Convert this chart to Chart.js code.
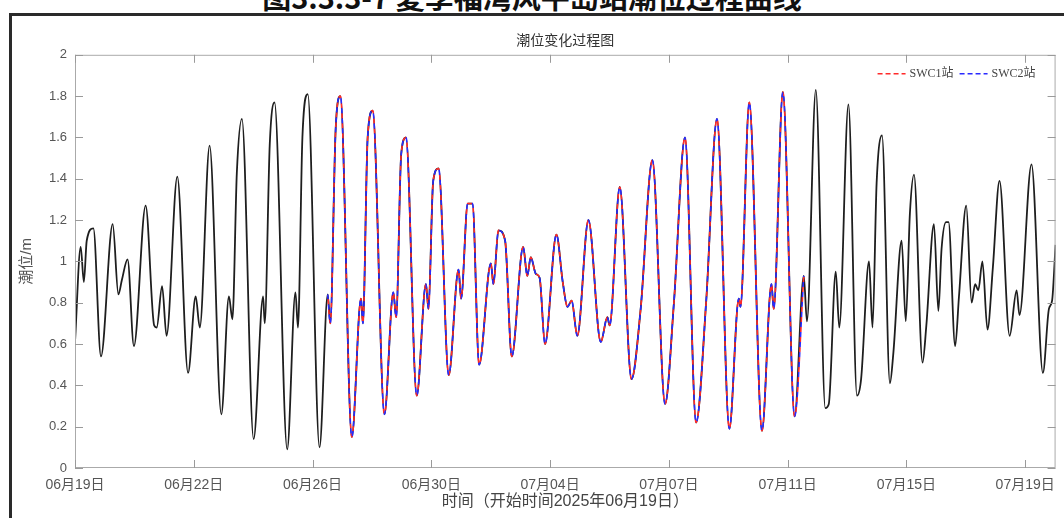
<!DOCTYPE html>
<html>
<head>
<meta charset="utf-8">
<script src="https://cdn.jsdelivr.net/npm/chart.js@4/dist/chart.umd.min.js"></script>
<style>
    html, body { margin: 0; padding: 0; background: #fff; overflow: hidden; }
    #page { position: relative; width: 1064px; height: 518px; }
    #docTitle {
        position: absolute; left: 0; top: -25px; width: 1064px; text-align: center;
        font: bold 29px "Noto Sans CJK SC", sans-serif; color: #111; white-space: nowrap;
    }
    #frameTop { position: absolute; left: 9px; top: 13px; width: 1055px; height: 3px; background: #2a2a2a; }
    #frameLeft { position: absolute; left: 9px; top: 13px; width: 3px; height: 505px; background: #2a2a2a; }
    #tideChart { position: absolute; left: 0; top: 0; }
</style>
</head>
<body>
<div id="page">
    <div id="docTitle">图3.3.3-7 夏季福湾风平岛站潮位过程曲线</div>
    <div id="frameTop"></div>
    <div id="frameLeft"></div>
    <canvas id="tideChart" width="1064" height="518"></canvas>
</div>
<script>
// x ticks (days after 06-19 00:00)
const tickDays = [0, 3.75, 7.5, 11.25, 15, 18.75, 22.5, 26.25, 30];
const tickLabels = ['06月19日', '06月22日', '06月26日', '06月30日', '07月04日', '07月07日', '07月11日', '07月15日', '07月19日'];

// tide level: time (days) and level (m)
const tideDays = [
    0.00, 0.18, 0.28, 0.37, 0.58, 0.82, 1.19, 1.37, 1.48, 1.66,
    1.86, 2.23, 2.50, 2.58, 2.75, 2.89, 3.23, 3.57, 3.81, 3.94,
    4.25, 4.62, 4.86, 4.97, 5.11, 5.27, 5.64, 5.94, 5.99, 6.15,
    6.30, 6.70, 6.96, 7.04, 7.18, 7.35, 7.72, 7.98, 8.06, 8.23,
    8.38, 8.74, 9.03, 9.09, 9.24, 9.40, 9.77, 10.05, 10.14, 10.30,
    10.45, 10.79, 11.08, 11.16, 11.31, 11.48, 11.80, 12.11, 12.19, 12.40,
    12.55, 12.76, 13.13, 13.21, 13.37, 13.58, 13.79, 14.15, 14.28, 14.39,
    14.55, 14.67, 14.84, 15.20, 15.40, 15.55, 15.68, 15.86, 16.21, 16.60,
    16.81, 16.88, 17.20, 17.57, 17.86, 18.23, 18.63, 18.91, 19.26, 19.61,
    19.93, 20.27, 20.66, 20.96, 21.01, 21.29, 21.69, 21.99, 22.06, 22.35,
    22.72, 23.01, 23.11, 23.39, 23.69, 23.80, 24.02, 24.13, 24.42, 24.69,
    24.82, 25.07, 25.18, 25.31, 25.48, 25.73, 25.84, 26.10, 26.23, 26.36,
    26.49, 26.76, 26.88, 27.12, 27.26, 27.36, 27.50, 27.58, 27.79, 27.91,
    28.14, 28.31, 28.42, 28.52, 28.65, 28.81, 28.98, 29.19, 29.51, 29.73,
    29.82, 30.20, 30.56, 30.75, 30.85, 30.96
];
const tideLevel = [
    0.61, 1.07, 0.90, 1.10, 1.16, 0.54, 1.18, 0.84, 0.91, 1.01,
    0.59, 1.27, 0.69, 0.68, 0.88, 0.64, 1.41, 0.46, 0.83, 0.68,
    1.56, 0.26, 0.83, 0.72, 1.43, 1.69, 0.14, 0.83, 0.70, 1.57,
    1.77, 0.09, 0.85, 0.68, 1.60, 1.81, 0.10, 0.84, 0.70, 1.64,
    1.80, 0.15, 0.82, 0.70, 1.60, 1.73, 0.26, 0.85, 0.73, 1.52,
    1.60, 0.35, 0.89, 0.77, 1.39, 1.45, 0.45, 0.96, 0.82, 1.28,
    1.28, 0.50, 0.99, 0.89, 1.15, 1.10, 0.54, 1.07, 0.93, 1.02,
    0.94, 0.92, 0.60, 1.13, 0.90, 0.78, 0.81, 0.64, 1.20, 0.61,
    0.73, 0.69, 1.36, 0.43, 0.77, 1.49, 0.31, 0.80, 1.60, 0.22,
    0.81, 1.69, 0.19, 0.82, 0.78, 1.77, 0.18, 0.89, 0.77, 1.82,
    0.25, 0.93, 0.71, 1.83, 0.29, 0.31, 0.95, 0.68, 1.76, 0.35,
    0.43, 1.00, 0.68, 1.38, 1.61, 0.41, 0.56, 1.10, 0.71, 1.23,
    1.42, 0.51, 0.69, 1.18, 0.76, 1.06, 1.19, 1.19, 0.59, 0.83,
    1.27, 0.80, 0.89, 0.86, 1.00, 0.67, 0.97, 1.39, 0.64, 0.86,
    0.74, 1.47, 0.46, 0.77, 0.81, 1.08
];

// stations SWC1 / SWC2 cover this window and sit on the same curve
const swcFrom = 7.98;
const swcTo = 23.01;

const tidePoints = tideDays.map((d, i) => ({ x: d, y: tideLevel[i] }));
const swcPoints = tidePoints.filter(p => p.x >= swcFrom && p.x <= swcTo);

// box, inward tick marks and the legend in the top right corner
const boxPlugin = {
    id: 'boxPlugin',
    afterDraw(chart) {
        const ctx = chart.ctx;
        const a = chart.chartArea;
        const xs = chart.scales.x;
        const ys = chart.scales.y;
        ctx.save();
        ctx.strokeStyle = '#aaaaaa';
        ctx.lineWidth = 1;
        ctx.strokeRect(a.left + 0.5, a.top + 0.5, a.right - a.left - 1, a.bottom - a.top - 1);

        ctx.strokeStyle = '#9a9a9a';
        ctx.beginPath();
        xs.ticks.forEach(t => {
            const px = Math.round(xs.getPixelForValue(t.value)) + 0.5;
            ctx.moveTo(px, a.bottom); ctx.lineTo(px, a.bottom - 8);
            ctx.moveTo(px, a.top); ctx.lineTo(px, a.top + 8);
        });
        ys.ticks.forEach(t => {
            const py = Math.round(ys.getPixelForValue(t.value)) + 0.5;
            ctx.moveTo(a.left, py); ctx.lineTo(a.left + 8, py);
            ctx.moveTo(a.right, py); ctx.lineTo(a.right - 8, py);
        });
        ctx.stroke();

        // legend
        const items = chart.data.datasets.filter(ds => ds.label);
        ctx.font = '12px "Liberation Serif", "Noto Sans CJK SC", serif';
        ctx.textBaseline = 'middle';
        const sample = 28;
        let total = 0;
        items.forEach(ds => { total += sample + 4 + ctx.measureText(ds.label).width + 6; });
        let x = a.right - 14 - total;
        const y = a.top + 19;
        items.forEach(ds => {
            ctx.strokeStyle = ds.borderColor;
            ctx.lineWidth = 1.5;
            ctx.setLineDash([5, 3]);
            ctx.beginPath();
            ctx.moveTo(x, y); ctx.lineTo(x + sample, y);
            ctx.stroke();
            ctx.setLineDash([]);
            x += sample + 4;
            ctx.fillStyle = '#444';
            ctx.fillText(ds.label, x, y);
            x += ctx.measureText(ds.label).width + 6;
        });
        ctx.restore();
    }
};

Chart.defaults.font.family = "'Liberation Sans', 'Noto Sans CJK SC', sans-serif";
Chart.defaults.color = '#555';

const ctx = document.getElementById('tideChart').getContext('2d');
new Chart(ctx, {
    type: 'line',
    data: {
        datasets: [
            {
                label: '',
                data: tidePoints,
                borderColor: '#1e1e1e',
                borderWidth: 1.8,
                order: 3
            },
            {
                label: 'SWC1站',
                data: swcPoints,
                borderColor: '#ff2a2a',
                borderWidth: 1.6,
                borderDash: [5, 5],
                borderDashOffset: 5,
                order: 2
            },
            {
                label: 'SWC2站',
                data: swcPoints,
                borderColor: '#2a2aff',
                borderWidth: 1.6,
                borderDash: [5, 5],
                borderDashOffset: 0,
                order: 1
            }
        ]
    },
    options: {
        responsive: false,
        animation: false,
        layout: { padding: { left: 0, right: 8, top: 30, bottom: 0 } },
        elements: {
            point: { radius: 0 },
            line: { cubicInterpolationMode: 'monotone', fill: false }
        },
        plugins: {
            legend: { display: false },
            tooltip: { enabled: false },
            title: {
                display: true,
                text: '潮位变化过程图',
                fullSize: false,
                color: '#333',
                font: { size: 14, weight: 'normal' },
                padding: { top: 3, bottom: 5 }
            }
        },
        scales: {
            x: {
                type: 'linear',
                min: 0,
                max: 30.96,
                grid: { display: false, drawTicks: false },
                border: { display: false },
                afterBuildTicks: scale => {
                    scale.ticks = tickDays.map(v => ({ value: v }));
                },
                afterFit: scale => { scale.height = 50; },
                ticks: {
                    autoSkip: false,
                    maxRotation: 0,
                    padding: 9,
                    font: { size: 14 },
                    callback: (value, index) => tickLabels[index]
                },
                title: {
                    display: true,
                    text: '时间（开始时间2025年06月19日）',
                    color: '#444',
                    font: { size: 16 },
                    padding: { top: 0, bottom: 7 }
                }
            },
            y: {
                min: 0,
                max: 2,
                grid: { display: false, drawTicks: false },
                border: { display: false },
                afterFit: scale => { scale.width = 75; },
                ticks: {
                    stepSize: 0.2,
                    padding: 8,
                    font: { size: 13 },
                    callback: value => String(+value.toFixed(1))
                },
                title: {
                    display: true,
                    text: '潮位/m',
                    color: '#555',
                    font: { size: 15 },
                    padding: { top: 18, bottom: 0 }
                }
            }
        }
    },
    plugins: [boxPlugin]
});
</script>
</body>
</html>
